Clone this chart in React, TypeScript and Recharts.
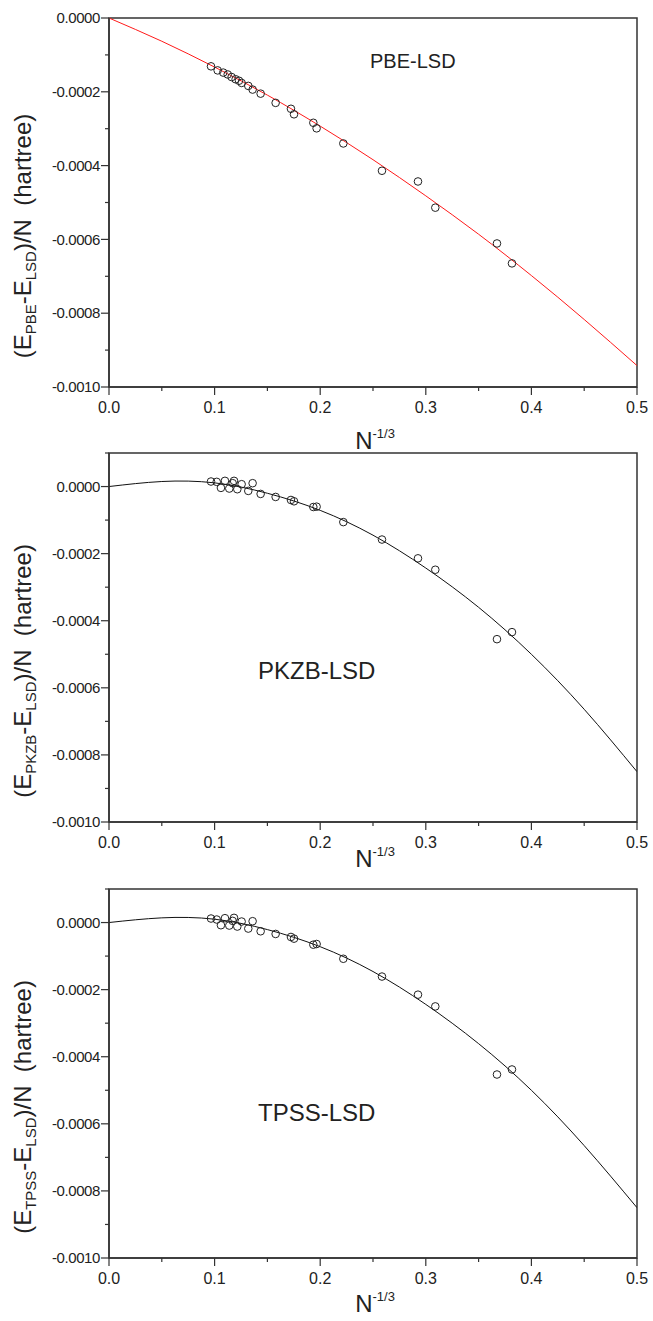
import React from 'react'
import { ComposedChart, Line, Scatter, XAxis, YAxis, ReferenceArea } from 'recharts'

// x = N^(-1/3), y = energy difference per atom (hartree)
const pbeX = [0.0966, 0.1029, 0.1082, 0.1124, 0.1161, 0.1199, 0.1231, 0.1256, 0.1319, 0.136, 0.1436, 0.1578, 0.1723, 0.1752, 0.1935, 0.1966, 0.2219, 0.2585, 0.2926, 0.309, 0.3674, 0.3816]
const pbeY = [-1.31e-4, -1.42e-4, -1.48e-4, -1.53e-4, -1.6e-4, -1.66e-4, -1.7e-4, -1.76e-4, -1.84e-4, -1.94e-4, -2.05e-4, -2.3e-4, -2.46e-4, -2.61e-4, -2.84e-4, -2.99e-4, -3.4e-4, -4.14e-4, -4.43e-4, -5.14e-4, -6.11e-4, -6.65e-4]

const metaX = [0.0966, 0.102, 0.106, 0.1098, 0.1139, 0.1171, 0.1184, 0.1215, 0.1256, 0.1319, 0.136, 0.1436, 0.1578, 0.1723, 0.1752, 0.1935, 0.1966, 0.2219, 0.2585, 0.2926, 0.309, 0.3674, 0.3816]
const pkzbY = [1.5e-5, 1.4e-5, -0.4e-5, 1.7e-5, -0.6e-5, 1.0e-5, 1.7e-5, -0.8e-5, 0.7e-5, -1.3e-5, 1.0e-5, -2.2e-5, -3.1e-5, -4.0e-5, -4.4e-5, -6.1e-5, -6.0e-5, -10.6e-5, -15.8e-5, -21.4e-5, -24.8e-5, -45.5e-5, -43.4e-5]
const tpssY = [1.2e-5, 0.9e-5, -0.8e-5, 1.3e-5, -0.9e-5, 0.5e-5, 1.4e-5, -1.2e-5, 0.3e-5, -1.8e-5, 0.4e-5, -2.6e-5, -3.4e-5, -4.3e-5, -4.8e-5, -6.6e-5, -6.4e-5, -10.8e-5, -16.1e-5, -21.5e-5, -25.0e-5, -45.3e-5, -43.8e-5]

// fitted curves, sampled along x
const fitX = [0, 0.05, 0.1, 0.15, 0.2, 0.25, 0.3, 0.35, 0.4, 0.45, 0.5]
const pbeFit = [0, -0.63e-4, -1.33e-4, -2.09e-4, -2.93e-4, -3.84e-4, -4.82e-4, -5.86e-4, -6.98e-4, -8.17e-4, -9.42e-4]
const pkzbFit = [0, 1.5e-5, 1.1e-5, -2.0e-5, -7.1e-5, -14.5e-5, -24.3e-5, -36.0e-5, -50.0e-5, -66.4e-5, -85.0e-5]
const tpssFit = [0, 1.4e-5, 1.0e-5, -2.1e-5, -7.2e-5, -14.6e-5, -24.4e-5, -36.1e-5, -50.0e-5, -66.5e-5, -85.0e-5]

const xTicks = [0, 0.05, 0.1, 0.15, 0.2, 0.25, 0.3, 0.35, 0.4, 0.45, 0.5]
const yTicksPbe = [0, -0.0001, -0.0002, -0.0003, -0.0004, -0.0005, -0.0006, -0.0007, -0.0008, -0.0009, -0.001]
const yTicksMeta = [0.0001, 0, -0.0001, -0.0002, -0.0003, -0.0004, -0.0005, -0.0006, -0.0007, -0.0008, -0.0009, -0.001]

const W = 653
const PLOT_LEFT = 109
const PLOT_RIGHT = 637
const PLOT_TOP = 18
const PLOT_BOTTOM = PLOT_TOP + 369
const AXIS = '#333'
const INK = '#222'
const FONT = 'Arial, "Liberation Sans", Helvetica, sans-serif'

const toPoints = (xs: number[], ys: number[]) => xs.map((x, i) => ({ x, y: ys[i] }))

function YTick({ y, payload }: any) {
  const v = payload.value as number
  const major = Math.round(Math.abs(v) * 1e4) % 2 === 0
  return (
    <g>
      <line x1={PLOT_LEFT - (major ? 8 : 4)} x2={PLOT_LEFT} y1={y} y2={y} stroke={AXIS} strokeWidth={1.2} />
      {major && (
        <text x={PLOT_LEFT - 9} y={y} dy="0.35em" textAnchor="end" fontSize={15} letterSpacing={-0.4} fontFamily={FONT} fill={INK}>
          {v === 0 ? '0.0000' : v.toFixed(4)}
        </text>
      )}
    </g>
  )
}

function XTick({ x, payload }: any) {
  const v = payload.value as number
  const major = Math.round(v * 20) % 2 === 0
  return (
    <g>
      <line x1={x} x2={x} y1={PLOT_BOTTOM} y2={PLOT_BOTTOM + (major ? 8 : 4)} stroke={AXIS} strokeWidth={1.2} />
      {major && (
        <text x={x} y={PLOT_BOTTOM + 26} textAnchor="middle" fontSize={16} fontFamily={FONT} fill={INK}>
          {v.toFixed(1)}
        </text>
      )}
    </g>
  )
}

function YTitle({ sub }: { sub: string }) {
  return (
    <text transform="translate(31, 236) rotate(-90)" textAnchor="middle" fontSize={24} fontFamily={FONT} fill={INK} style={{ whiteSpace: 'pre' }}>
      (E<tspan fontSize={15} dy={5}>{sub}</tspan>
      <tspan dy={-5}>-E</tspan>
      <tspan fontSize={15} dy={5}>LSD</tspan>
      <tspan dy={-5}>)/N  (hartree)</tspan>
    </text>
  )
}

function XTitle({ baseline }: { baseline: number }) {
  return (
    <text x={375} y={baseline} textAnchor="middle" fontSize={24} fontFamily={FONT} fill={INK}>
      N<tspan fontSize={13} dy={-11}>-1/3</tspan>
    </text>
  )
}

// panel name written inside the plot; props named so Recharts' label x/y don't override them
function Tag({ text, left, base, size }: { text: string; left: number; base: number; size: number }) {
  return (
    <text x={left} y={base} fontSize={size} fontFamily={FONT} fill={INK}>
      {text}
    </text>
  )
}

const circle = (p: any) => <circle cx={p.cx} cy={p.cy} r={3.8} fill="none" stroke={INK} strokeWidth={1} />

interface PanelProps {
  top: number
  height: number
  yDomain: [number, number]
  yTicks: number[]
  points: { x: number; y: number }[]
  fit: { x: number; y: number }[]
  color: string
  sub: string
  tag: { text: string; left: number; base: number; size: number }
  xTitleBaseline: number
}

function Panel({ top, height, yDomain, yTicks, points, fit, color, sub, tag, xTitleBaseline }: PanelProps) {
  const axisLine = { stroke: AXIS, strokeWidth: 1.5 }
  return (
    <div style={{ position: 'absolute', left: 0, top, width: W, height }}>
      <ComposedChart
        width={W}
        height={height}
        margin={{ top: PLOT_TOP, right: W - PLOT_RIGHT, left: PLOT_LEFT - 60, bottom: height - PLOT_BOTTOM - 30 }}
      >
        <XAxis
          dataKey="x"
          type="number"
          domain={[0, 0.5]}
          ticks={xTicks}
          interval={0}
          allowDataOverflow
          height={30}
          axisLine={axisLine}
          tickLine={false}
          tick={<XTick />}
          label={<XTitle baseline={xTitleBaseline} />}
        />
        <YAxis
          dataKey="y"
          type="number"
          domain={yDomain}
          ticks={yTicks}
          interval={0}
          allowDataOverflow
          width={60}
          axisLine={axisLine}
          tickLine={false}
          tick={<YTick />}
          label={<YTitle sub={sub} />}
        />
        {/* box frame around the plot area */}
        <ReferenceArea
          x1={0}
          x2={0.5}
          y1={yDomain[0]}
          y2={yDomain[1]}
          fill="none"
          fillOpacity={0}
          stroke={AXIS}
          strokeWidth={1.5}
          label={<Tag {...tag} />}
        />
        <Line data={fit} dataKey="y" type="natural" stroke={color} strokeWidth={1} dot={false} activeDot={false} isAnimationActive={false} />
        <Scatter data={points} dataKey="y" shape={circle} isAnimationActive={false} />
      </ComposedChart>
    </div>
  )
}

export default function App() {
  return (
    <div style={{ position: 'absolute', left: 0, top: 0, width: W, height: 1321, background: '#fff', overflow: 'hidden' }}>
      <Panel
        top={0}
        height={455}
        yDomain={[-0.001, 0]}
        yTicks={yTicksPbe}
        points={toPoints(pbeX, pbeY)}
        fit={toPoints(fitX, pbeFit)}
        color="#ff1a1a"
        sub="PBE"
        tag={{ text: 'PBE-LSD', left: 370, base: 68, size: 20 }}
        xTitleBaseline={449}
      />
      <Panel
        top={435}
        height={440}
        yDomain={[-0.001, 0.0001]}
        yTicks={yTicksMeta}
        points={toPoints(metaX, pkzbY)}
        fit={toPoints(fitX, pkzbFit)}
        color="#111"
        sub="PKZB"
        tag={{ text: 'PKZB-LSD', left: 258, base: 244, size: 24 }}
        xTitleBaseline={432}
      />
      <Panel
        top={871}
        height={450}
        yDomain={[-0.001, 0.0001]}
        yTicks={yTicksMeta}
        points={toPoints(metaX, tpssY)}
        fit={toPoints(fitX, tpssFit)}
        color="#111"
        sub="TPSS"
        tag={{ text: 'TPSS-LSD', left: 258, base: 250, size: 24 }}
        xTitleBaseline={441}
      />
    </div>
  )
}
